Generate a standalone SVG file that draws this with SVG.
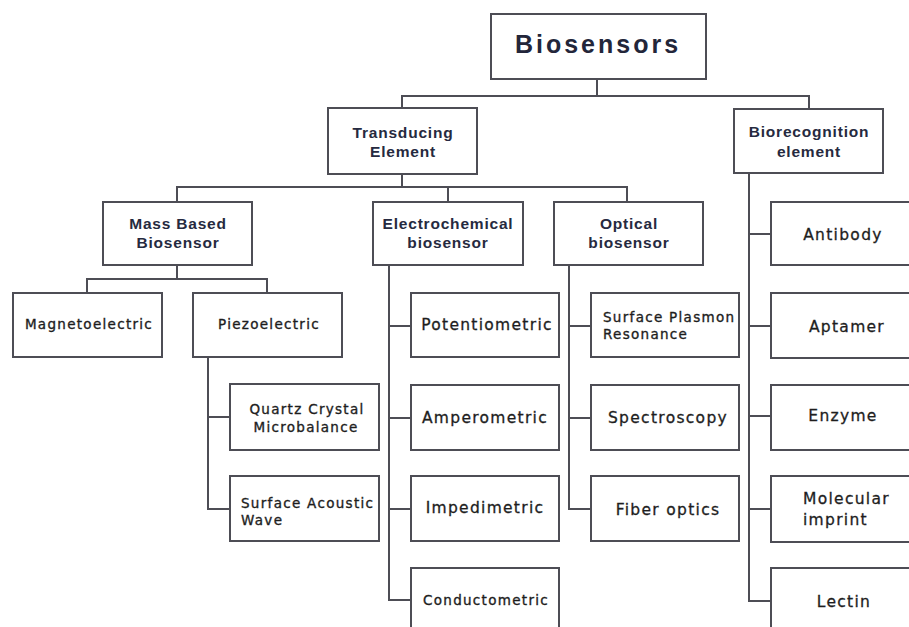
<svg xmlns="http://www.w3.org/2000/svg" width="909" height="627" viewBox="0 0 909 627">
  <style>
    .box { fill: #ffffff; stroke: #4d4d55; stroke-width: 2; }
    .wire { fill: none; stroke: #4d4d55; stroke-width: 2; }
    .hd { font-family: "Liberation Sans", Arial, sans-serif; font-weight: bold; font-size: 15.5px; letter-spacing: 0.8px; fill: #262a40; text-anchor: middle; }
    .title { font-family: "Liberation Sans", Arial, sans-serif; font-weight: bold; font-size: 25px; letter-spacing: 3px; fill: #23263a; text-anchor: middle; }
    .lg { font-family: "DejaVu Sans", sans-serif; font-size: 15.5px; letter-spacing: 1.3px; fill: #1e1e1e; stroke: #1e1e1e; stroke-width: 0.3px; text-anchor: middle; }
    .sm { font-family: "DejaVu Sans", sans-serif; font-size: 13.5px; letter-spacing: 1.3px; fill: #1e1e1e; stroke: #1e1e1e; stroke-width: 0.35px; text-anchor: middle; }
    .left { text-anchor: start; }
  </style>

  <rect width="909" height="627" fill="#ffffff"/>

  <g id="connectors">
    <path class="wire" d="M597 79 V96 M402 108 V96 H809 V109"/>
    <path class="wire" d="M402 174 V187 M177 202 V187 H627 V202 M448 187 V202"/>
    <path class="wire" d="M177 265 V279 M87 293 V279 H267 V293"/>
    <path class="wire" d="M208 357 V509 H230 M208 417 H230"/>
    <path class="wire" d="M389 265 V600 H411 M389 326 H411 M389 418 H411 M389 509 H411"/>
    <path class="wire" d="M569 265 V509 H591 M569 326 H591 M569 418 H591"/>
    <path class="wire" d="M749 173 V601 H771 M749 234 H771 M749 326 H771 M749 416 H771 M749 509 H771"/>
  </g>

  <g id="biosensors">
    <rect class="box" x="491" y="14" width="215" height="65"/>
    <text class="title" x="598" y="53">Biosensors</text>
  </g>

  <g id="transducing">
    <rect class="box" x="328" y="108" width="149" height="66"/>
    <text class="hd" x="403" y="138">Transducing</text>
    <text class="hd" x="403" y="157">Element</text>
  </g>

  <g id="biorecognition">
    <rect class="box" x="734" y="109" width="149" height="64"/>
    <text class="hd" x="809" y="137">Biorecognition</text>
    <text class="hd" x="809" y="157">element</text>
  </g>

  <g id="mass-based">
    <rect class="box" x="103" y="202" width="149" height="63"/>
    <text class="hd" x="178" y="229">Mass Based</text>
    <text class="hd" x="178" y="248">Biosensor</text>
  </g>

  <g id="electrochemical">
    <rect class="box" x="373" y="202" width="150" height="63"/>
    <text class="hd" x="448" y="229">Electrochemical</text>
    <text class="hd" x="448" y="248">biosensor</text>
  </g>

  <g id="optical">
    <rect class="box" x="554" y="202" width="149" height="63"/>
    <text class="hd" x="629" y="229">Optical</text>
    <text class="hd" x="629" y="248">biosensor</text>
  </g>

  <g id="magnetoelectric">
    <rect class="box" x="13" y="293" width="149" height="64"/>
    <text class="sm" x="89" y="329">Magnetoelectric</text>
  </g>

  <g id="piezoelectric">
    <rect class="box" x="193" y="293" width="149" height="64"/>
    <text class="sm" x="269" y="329">Piezoelectric</text>
  </g>

  <g id="qcm">
    <rect class="box" x="230" y="384" width="149" height="66"/>
    <text class="sm" x="307" y="414">Quartz Crystal</text>
    <text class="sm" x="306" y="432">Microbalance</text>
  </g>

  <g id="saw">
    <rect class="box" x="230" y="476" width="149" height="65"/>
    <text class="sm left" x="241" y="508">Surface Acoustic</text>
    <text class="sm left" x="241" y="525">Wave</text>
  </g>

  <g id="potentiometric">
    <rect class="box" x="411" y="293" width="148" height="64"/>
    <text class="lg" x="487" y="330">Potentiometric</text>
  </g>

  <g id="amperometric">
    <rect class="box" x="411" y="385" width="148" height="65"/>
    <text class="lg" x="485" y="423">Amperometric</text>
  </g>

  <g id="impedimetric">
    <rect class="box" x="411" y="476" width="148" height="65"/>
    <text class="lg" x="485" y="513">Impedimetric</text>
  </g>

  <g id="conductometric">
    <rect class="box" x="411" y="568" width="148" height="80"/>
    <text class="sm" x="486" y="605">Conductometric</text>
  </g>

  <g id="spr">
    <rect class="box" x="591" y="293" width="148" height="64"/>
    <text class="sm left" x="603" y="322">Surface Plasmon</text>
    <text class="sm left" x="603" y="339">Resonance</text>
  </g>

  <g id="spectroscopy">
    <rect class="box" x="591" y="385" width="148" height="65"/>
    <text class="lg" x="668" y="423">Spectroscopy</text>
  </g>

  <g id="fiber-optics">
    <rect class="box" x="591" y="476" width="148" height="65"/>
    <text class="lg" x="668" y="515">Fiber optics</text>
  </g>

  <g id="antibody">
    <rect class="box" x="771" y="202" width="150" height="63"/>
    <text class="lg" x="843" y="240">Antibody</text>
  </g>

  <g id="aptamer">
    <rect class="box" x="771" y="293" width="150" height="65"/>
    <text class="lg" x="847" y="332">Aptamer</text>
  </g>

  <g id="enzyme">
    <rect class="box" x="771" y="385" width="150" height="65"/>
    <text class="lg" x="843" y="421">Enzyme</text>
  </g>

  <g id="molecular-imprint">
    <rect class="box" x="771" y="476" width="150" height="66"/>
    <text class="lg left" x="803" y="504">Molecular</text>
    <text class="lg left" x="803" y="525">imprint</text>
  </g>

  <g id="lectin">
    <rect class="box" x="771" y="568" width="150" height="80"/>
    <text class="lg" x="844" y="607">Lectin</text>
  </g>
</svg>
